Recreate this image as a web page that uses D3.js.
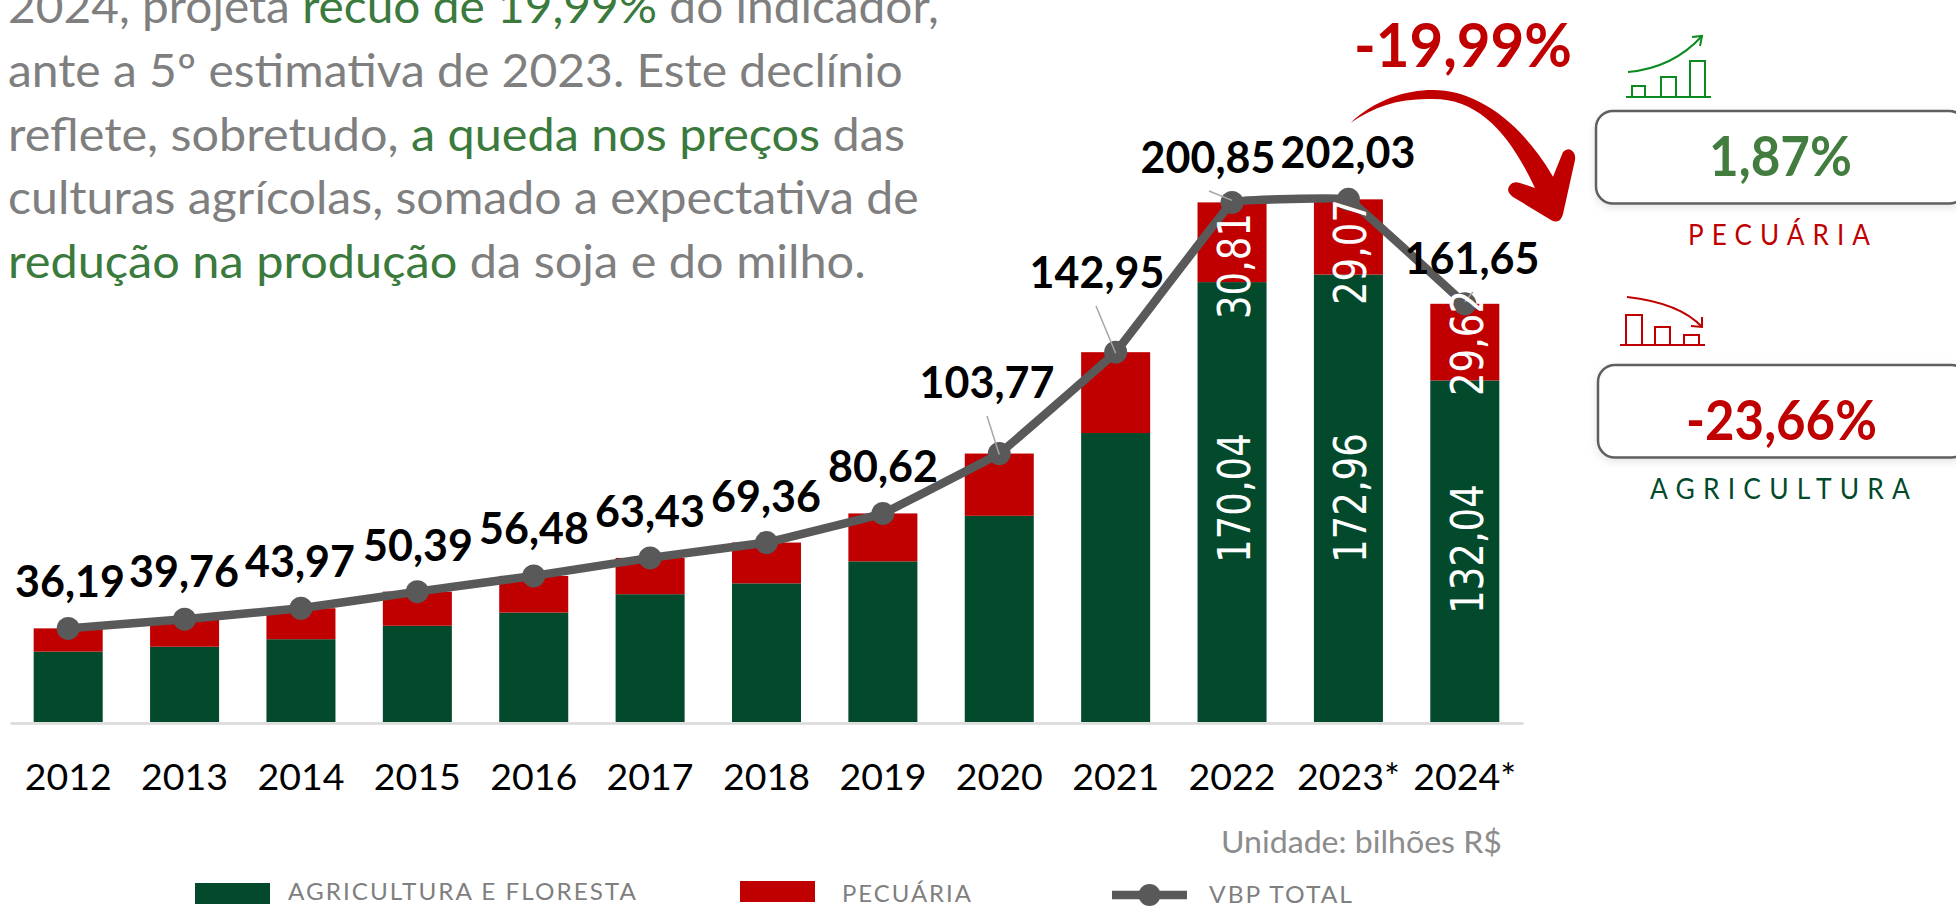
<!DOCTYPE html>
<html><head><meta charset="utf-8">
<script src="https://cdn.jsdelivr.net/npm/d3@7"></script>
<style>html,body{margin:0;padding:0;background:#fff;overflow:hidden}svg{display:block}text{font-family:Lato,"Open Sans",sans-serif}</style>
</head><body><svg id="c" width="1956" height="907"></svg>
<script>
const years = ["2012","2013","2014","2015","2016","2017","2018","2019","2020","2021","2022","2023*","2024*"];
const totals = [36.19,39.76,43.97,50.39,56.48,63.43,69.36,80.62,103.77,142.95,200.85,202.03,161.65];
const agricultura = [27.2,29.1,32.0,37.2,42.3,49.4,53.6,62.1,79.7,111.7,170.04,172.96,132.04];
const pecuaria = [8.99,10.66,11.97,13.19,14.18,14.03,15.76,18.52,24.07,31.25,30.81,29.07,29.62];
const shownAgri = ["","","","","","","","","","","170,04","172,96","132,04"];
const shownPec = ["","","","","","","","","","","30,81","29,07","29,62"];
const fmt = v => v.toFixed(2).replace(".", ",");

// label layout: centre x / baseline y of the total labels
const totalLabelPos = [[70,597],[184,587],[300,577],[418,561],[534,544],[650,527],[766,512],[883,482],[987,398],[1097,288],[1208,173],[1348,168],[1472,274]];
const leaders = {8:[987,416],9:[1096,306],10:[1209,191],12:[1473,292]};
const pecLabelY = {10:266,11:252,12:343};
const agriLabelY = {10:498,11:498,12:549};

const paragraph = [
  {y:23, x1:939, parts:[["2024, projeta ",0],["recuo de 19,99%",1],[" do indicador,",0]]},
  {y:87, x1:903, parts:[["ante a 5º estimativa de 2023. Este declínio",0]]},
  {y:151,x1:905, parts:[["reflete, sobretudo, ",0],["a queda nos preços",1],[" das",0]]},
  {y:214,x1:919, parts:[["culturas agrícolas, somado a expectativa de",0]]},
  {y:278,x1:866, parts:[["redução na produção",1],[" da soja e do milho.",0]]}
];

const GREEN="#024A2B", RED="#C00000", LINE="#595959", GRAY="#7F7F7F", TXTGREEN="#3B7A3D";
const svg = d3.select("#c");
const defs = svg.append("defs");
const f = defs.append("filter").attr("id","sh").attr("x","-5%").attr("y","-10%").attr("width","110%").attr("height","130%");
f.append("feDropShadow").attr("dx",0).attr("dy",3).attr("stdDeviation",4).attr("flood-color","#000").attr("flood-opacity",0.10);

const x = d3.scaleBand().domain(years).range([10,1523]).paddingInner(0.407).paddingOuter(0.2035);
const y = d3.scaleLinear().domain([0,250]).range([722,75.25]);

function fit(t, px, py, width, ls){
  const len = t.node().getComputedTextLength() - (ls||0);
  t.attr("transform",`translate(${px},${py}) scale(${width/len},1)`);
  return t;
}
function label(str, x0, x1, base, size, weight, color, ls){
  const t = svg.append("text").text(str).attr("font-size",size).attr("font-weight",weight).attr("fill",color);
  if(ls) t.style("letter-spacing",ls+"px");
  return fit(t,x0,base,x1-x0,ls);
}

// paragraph
paragraph.forEach(l=>{
  const t = svg.append("text").attr("font-size",45.5);
  l.parts.forEach(p=>t.append("tspan").text(p[0]).attr("fill",p[1]?TXTGREEN:GRAY).style("white-space","pre"));
  t.style("white-space","pre");
  fit(t,8,l.y,l.x1-8);
});

// stacked bars
const rows = years.map((yr,i)=>({year:yr,agri:agricultura[i],pec:pecuaria[i]}));
const stack = d3.stack().keys(["agri","pec"])(rows);
const colors = {agri:GREEN,pec:RED};
svg.append("g").selectAll("g").data(stack).join("g").attr("fill",d=>colors[d.key])
  .selectAll("rect").data(d=>d).join("rect")
  .attr("x",d=>x(d.data.year)).attr("width",x.bandwidth())
  .attr("y",d=>y(d[1])).attr("height",d=>y(d[0])-y(d[1]));

// axis
const ax = svg.append("g").attr("transform",`translate(0,${y(0)+1})`).call(d3.axisBottom(x).tickSize(0));
ax.select(".domain").attr("stroke","#D9D9D9").attr("stroke-width",2.5);
ax.selectAll("text").attr("y",67).attr("dy",0).attr("font-size",37.5).attr("font-family","Lato").attr("fill","#000");

// line
const lineGen = d3.line().x((d,i)=>x(years[i])+x.bandwidth()/2).y(d=>y(d)).curve(d3.curveCardinal.tension(0.88));
svg.append("path").datum(totals).attr("d",lineGen).attr("fill","none").attr("stroke",LINE).attr("stroke-width",8.5);
svg.append("g").selectAll("circle").data(totals).join("circle")
  .attr("cx",(d,i)=>x(years[i])+x.bandwidth()/2).attr("cy",d=>y(d)).attr("r",11.5).attr("fill",LINE);

// leader lines
Object.keys(leaders).forEach(k=>{
  svg.append("line").attr("x1",leaders[k][0]).attr("y1",leaders[k][1])
    .attr("x2",x(years[k])+x.bandwidth()/2).attr("y2",y(totals[k])-(+k===9||+k===8?-1:2))
    .attr("stroke","#A6A6A6").attr("stroke-width",1.5);
});

// rotated segment labels
function rotated(str, cx, cy){
  svg.append("text").text(str).attr("text-anchor","middle").attr("fill","#fff")
    .style("font-family","'DejaVu Sans'").attr("font-weight",400).attr("font-size",44)
    .attr("transform",`translate(${cx+16},${cy}) rotate(-90) scale(0.84,1)`);
}
years.forEach((yr,i)=>{
  const cx=x(yr)+x.bandwidth()/2;
  if(shownAgri[i]) rotated(shownAgri[i],cx+2,agriLabelY[i]);
  if(shownPec[i]) rotated(shownPec[i],cx+2,pecLabelY[i]);
});

// total labels
svg.append("g").selectAll("text").data(totals).join("text")
  .text(d=>fmt(d)).attr("text-anchor","middle").attr("font-weight",700).attr("font-size",43).attr("fill","#000")
  .attr("x",(d,i)=>totalLabelPos[i][0]).attr("y",(d,i)=>totalLabelPos[i][1]);

// unit
label("Unidade: bilhões R$",1221,1502,853,31,400,"#8C8C8C");

// legend
svg.append("rect").attr("x",195).attr("y",883).attr("width",75).attr("height",21).attr("fill",GREEN);
svg.append("rect").attr("x",740).attr("y",881).attr("width",75).attr("height",21).attr("fill",RED);
svg.append("line").attr("x1",1112).attr("x2",1187).attr("y1",895).attr("y2",895).attr("stroke",LINE).attr("stroke-width",8.5);
svg.append("circle").attr("cx",1149.5).attr("cy",895).attr("r",11).attr("fill",LINE);
label("AGRICULTURA E FLORESTA",288,636,900,24,400,GRAY,2);
label("PECUÁRIA",842,971,902,24,400,GRAY,2);
label("VBP TOTAL",1209,1352,903,24,400,GRAY,2);

// headline + swoosh arrow
label("-19,99%",1354,1572,67,62,700,RED);
svg.append("path").attr("fill",RED).attr("d","M1350.7,122.7 C1375,100 1405,90 1433,90 C1475,90 1520,120 1553,176.7 L1563,152 Q1567,148 1571,150 Q1576,153 1575,160 L1563,214 Q1560,225 1551,220 L1513,197 Q1505,191 1510,185 Q1513,181 1520,183 L1535,188 C1510,135 1480,99 1433,99 C1400,98 1375,106 1350.7,122.7 Z");

// KPI boxes
[[1596,111],[1598,365]].forEach(b=>{
  svg.append("rect").attr("x",b[0]).attr("y",b[1]).attr("width",370).attr("height",92.5).attr("rx",17)
    .attr("fill","#fff").attr("stroke","#5F5F5F").attr("stroke-width",2.5).attr("filter","url(#sh)");
});
label("1,87%",1709,1852,176,55,700,"#437C3F");
label("-23,66%",1686,1877,440,55,700,RED);
label("PECUÁRIA",1688,1870,245,29,400,RED,9);
label("AGRICULTURA",1650,1910,499,29,400,GREEN,9);

// icons
function icon(color, baseY, x0, x1, bars, curve, head){
  const g=svg.append("g").attr("fill","none").attr("stroke",color).attr("stroke-width",2);
  g.append("line").attr("x1",x0).attr("x2",x1).attr("y1",baseY).attr("y2",baseY);
  bars.forEach(b=>g.append("rect").attr("x",b[0]).attr("y",b[2]).attr("width",b[1]-b[0]).attr("height",baseY-b[2]));
  g.append("path").attr("d",curve);
  g.append("path").attr("d",head);
}
icon("#0B8A1F",97,1626,1711,[[1632,1645,86],[1661,1676,77],[1690,1705,61]],
  "M1628,72 Q1673,68 1702,36","M1692,37 L1702,36 L1700,46");
icon(RED,345,1620,1705,[[1626,1642,315],[1655,1670,327],[1684,1699,335]],
  "M1627,297 Q1680,303 1702,327","M1691,326 L1702,327 L1702,317");
</script></body></html>
